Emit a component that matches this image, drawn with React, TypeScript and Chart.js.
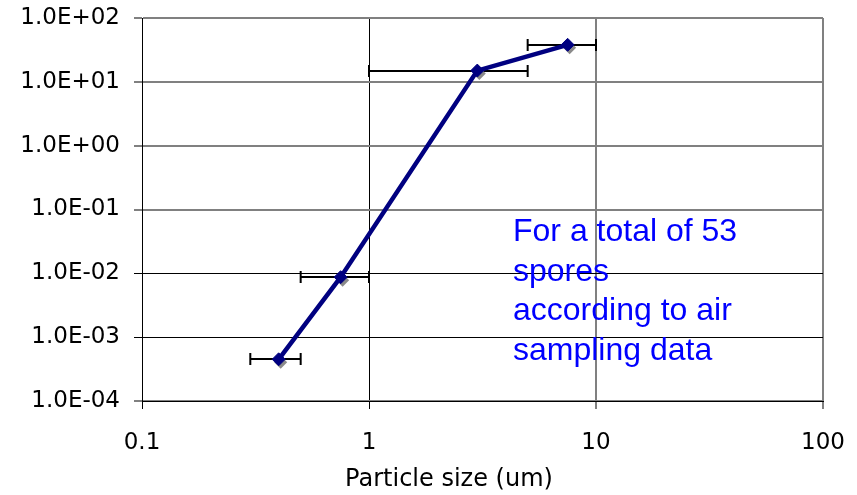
import { useEffect, useRef } from 'react';
import { Chart, registerables } from 'chart.js';

Chart.register(...registerables);

// Spore size distribution from air sampling
const particleSizes = [0.4, 0.75, 3, 7.5];
const concentrations = [4.5e-4, 8.7e-3, 15, 38];
const sizeLow = [0.3, 0.5, 1, 5];
const sizeHigh = [0.5, 1, 5, 10];

const xTickValues = [0.1, 1, 10, 100];
const yTickValues = [1e-4, 1e-3, 1e-2, 1e-1, 1, 10, 100];

const xTitle = 'Particle size (um)';
const noteLines = ['For a total of 53', 'spores', 'according to air', 'sampling data'];

const NAVY = '#000080';
const TICK_FONT = { family: '"DejaVu Sans", Verdana, sans-serif', size: 23 };

// Grid lines drawn soft grey (others crisp black)
const softY = new Set([1e-4, 1e-1, 1, 10, 100]);
const softX = new Set([10, 100]);

function sciLabel(v: number): string {
  const e = Math.round(Math.log10(v));
  const m = v / Math.pow(10, e);
  return `${m.toFixed(1)}E${e < 0 ? '-' : '+'}${String(Math.abs(e)).padStart(2, '0')}`;
}

function isSoft(set: Set<number>, v: number): boolean {
  for (const s of set) if (Math.abs(Math.log10(s) - Math.log10(v)) < 1e-6) return true;
  return false;
}

function diamond(ctx: CanvasRenderingContext2D, cx: number, cy: number, r: number) {
  ctx.beginPath();
  ctx.moveTo(cx, cy - r);
  ctx.lineTo(cx + r, cy);
  ctx.lineTo(cx, cy + r);
  ctx.lineTo(cx - r, cy);
  ctx.closePath();
  ctx.fill();
}

const errorBarPlugin = {
  id: 'sizeErrorBars',
  beforeDatasetsDraw(chart: any) {
    const { ctx, scales } = chart;
    const x = scales.x;
    const y = scales.y;
    ctx.save();
    ctx.strokeStyle = '#000';
    ctx.lineWidth = 2;
    particleSizes.forEach((_, i) => {
      const py = Math.round(y.getPixelForValue(concentrations[i]));
      const x0 = x.getPixelForValue(sizeLow[i]);
      const x1 = x.getPixelForValue(sizeHigh[i]);
      ctx.beginPath();
      ctx.moveTo(x0, py);
      ctx.lineTo(x1, py);
      ctx.moveTo(x0, py - 6);
      ctx.lineTo(x0, py + 6);
      ctx.moveTo(x1, py - 6);
      ctx.lineTo(x1, py + 6);
      ctx.stroke();
    });
    // marker shadows
    ctx.fillStyle = '#8a8a8a';
    particleSizes.forEach((v, i) => {
      diamond(ctx, x.getPixelForValue(v) + 2, y.getPixelForValue(concentrations[i]) + 3, 6.5);
    });
    ctx.restore();
  },
};

// Blue annotation inside the plot plus the x-axis title
const textPlugin = {
  id: 'sporeText',
  afterDraw(chart: any) {
    const { ctx, chartArea } = chart;
    ctx.save();
    ctx.fillStyle = '#0000ff';
    ctx.font = '32px "Liberation Sans", Arial, sans-serif';
    ctx.textAlign = 'left';
    ctx.textBaseline = 'alphabetic';
    noteLines.forEach((line, i) => {
      ctx.fillText(line, chartArea.left + 371, chartArea.top + 223 + i * 39.5);
    });

    ctx.fillStyle = '#000';
    ctx.font = '24px "DejaVu Sans", Verdana, sans-serif';
    ctx.textAlign = 'center';
    ctx.textBaseline = 'middle';
    ctx.fillText(xTitle, chartArea.left + 307, chartArea.bottom + 79);
    ctx.restore();
  },
};

export default function App() {
  const canvasRef = useRef<HTMLCanvasElement | null>(null);

  useEffect(() => {
    const canvas = canvasRef.current;
    if (!canvas) return;
    const chart = new Chart(canvas, {
      type: 'line',
      data: {
        datasets: [
          {
            data: particleSizes.map((v, i) => ({ x: v, y: concentrations[i] })),
            borderColor: NAVY,
            borderWidth: 4.5,
            pointStyle: 'rectRot',
            pointRadius: 6.5,
            pointBackgroundColor: NAVY,
            pointBorderColor: NAVY,
            pointBorderWidth: 1,
            tension: 0,
            fill: false,
          },
        ],
      },
      options: {
        responsive: false,
        animation: false,
        layout: { padding: { top: 18, right: 34, left: 0, bottom: 0 } },
        plugins: {
          legend: { display: false },
          tooltip: { enabled: false },
        },
        scales: {
          x: {
            type: 'logarithmic',
            position: 'bottom',
            min: 0.1,
            max: 100,
            afterBuildTicks: (s: any) => {
              s.ticks = xTickValues.map((value) => ({ value }));
            },
            afterFit: (s: any) => {
              s.height = 94;
              s.paddingLeft = 0;
              s.paddingRight = 0;
            },
            ticks: {
              callback: (v: any) => String(v),
              font: TICK_FONT,
              color: '#000',
              padding: 20,
              maxRotation: 0,
              autoSkip: false,
            },
            grid: {
              color: (c: any) => (c.tick && isSoft(softX, c.tick.value) ? '#808080' : '#000'),
              lineWidth: (c: any) => (c.tick && isSoft(softX, c.tick.value) ? 2 : 1),
              tickLength: 8,
            },
            border: { display: true, color: '#000', width: 1 },
          },
          y: {
            type: 'logarithmic',
            position: 'left',
            min: 1e-4,
            max: 100,
            afterBuildTicks: (s: any) => {
              s.ticks = yTickValues.map((value) => ({ value }));
            },
            afterFit: (s: any) => {
              s.width = 142;
              s.paddingTop = 0;
              s.paddingBottom = 0;
            },
            ticks: {
              callback: (v: any) => sciLabel(Number(v)),
              font: TICK_FONT,
              color: '#000',
              padding: 14,
              autoSkip: false,
            },
            grid: {
              color: (c: any) => (c.tick && isSoft(softY, c.tick.value) ? '#808080' : '#000'),
              lineWidth: (c: any) => (c.tick && isSoft(softY, c.tick.value) ? 2 : 1),
              tickLength: 8,
            },
            border: { display: true, color: '#000', width: 1 },
          },
        },
      },
      plugins: [errorBarPlugin, textPlugin],
    });
    return () => chart.destroy();
  }, []);

  return (
    <div style={{ position: 'absolute', left: 0, top: 0, width: 857, height: 495, background: '#fff' }}>
      <canvas ref={canvasRef} width={857} height={495} />
    </div>
  );
}
